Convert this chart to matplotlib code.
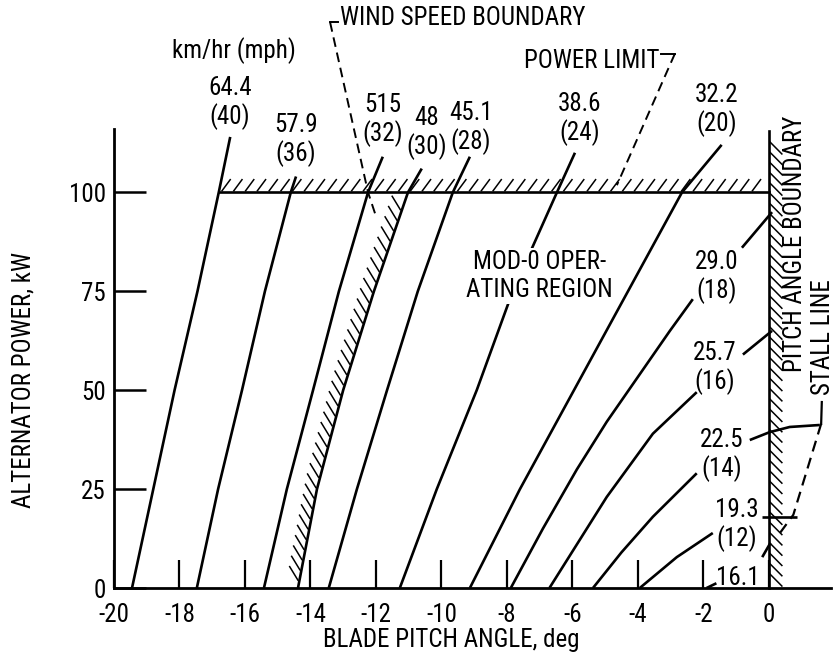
import numpy as np
import matplotlib
matplotlib.use('Agg')
import matplotlib.pyplot as plt
from matplotlib import font_manager as fm

# 좁은 글꼴을 찾아서 사용 (없으면 DejaVu Sans 로 작게)
available = {f.name for f in fm.fontManager.ttflist}
font_choice = None
for cand in ['Liberation Sans Narrow', 'Roboto Condensed', 'Open Sans Condensed', 'PT Sans Narrow',
             'Archivo Narrow', 'Fira Sans Condensed', 'IBM Plex Sans Condensed', 'Encode Sans Condensed',
             'Asap Condensed', 'Sofia Sans Condensed', 'Arimo']:
    if cand in available:
        font_choice = cand
        break
if font_choice and font_choice != 'Arimo':
    plt.rcParams['font.family'] = [font_choice, 'DejaVu Sans']
    FS = 18
else:
    plt.rcParams['font.family'] = ['DejaVu Sans']
    plt.rcParams['font.stretch'] = 'condensed'
    FS = 14
plt.rcParams['axes.unicode_minus'] = False

# --- 데이터 ---
pitch_ticks = [-20, -18, -16, -14, -12, -10, -8, -6, -4, -2, 0]
pitch_tick_labels = ['-20', '-18', '-16', '-14', '-12', '-10', '-8', '-6', '-4', '-2', '0']
power_ticks = [0, 25, 50, 75, 100]

# 풍속 곡선 (pitch deg, power kW)
c40_pitch = [-19.45, -18.8, -18.15, -17.45, -16.8, -16.45]
c40_power = [0, 25, 50, 75, 100, 114]
c36_pitch = [-17.47, -16.82, -16.09, -15.39, -14.6, -14.44]
c36_power = [0, 25, 50, 75, 100, 104]
c32_pitch = [-15.42, -14.72, -13.92, -13.13, -12.24, -11.79]
c32_power = [0, 25, 50, 75, 100, 109]
c30_pitch = [-14.38, -13.8, -13.0, -12.06, -11.02, -10.6]
c30_power = [0, 25, 50, 75, 100, 106]
c28_pitch = [-13.44, -12.58, -11.66, -10.72, -9.65, -9.13]
c28_power = [0, 25, 50, 75, 100, 109]
c24_pitch = [-11.27, -10.14, -8.92, -7.82, -6.47, -5.92]
c24_power = [0, 25, 50, 75, 100, 110]
c20_pitch = [-9.13, -7.6, -5.95, -4.3, -2.65, -1.44]
c20_power = [0, 25, 50, 75, 100, 112]
c18_pitch = [-7.88, -6.9, -5.86, -4.95, -3.02, -2.32]
c18_power = [0, 15, 30, 42, 65, 73]
c16_pitch = [-6.7, -4.95, -3.54, -2.2]
c16_power = [0, 23, 39, 49.5]
c14_pitch = [-5.37, -4.5, -3.54, -2.2]
c14_power = [0, 9, 18, 29]
c12_pitch = [-3.94, -2.81, -1.71]
c12_power = [0, 7.8, 13.9]
c10_pitch = [-1.9, -1.6]
c10_power = [0, 1.2]

# 라벨 뒤에서 경계선까지 이어지는 부분
c18_end_pitch = [-0.82, 0.1]
c18_end_power = [86, 95]
c16_end_pitch = [-0.79, 0.1]
c16_end_power = [59, 65]
c14_end_pitch = [-0.58, 0.03, 0.64, 1.56]
c14_end_power = [37.4, 39.4, 40.7, 41.2]
c12_end_pitch = [-0.2, 0.85]
c12_end_power = [17.9, 17.9]
c10_end_pitch = [-0.2, 0.05]
c10_end_power = [7.8, 11.4]

stall_pitch = [1.6, 0.75, 0.35]
stall_power = [41.5, 18.5, 14]

kmh_labels = ['64.4', '57.9', '515', '48', '45.1', '38.6', '32.2', '29.0', '25.7', '22.5', '19.3', '16.1']
mph_labels = ['(40)', '(36)', '(32)', '(30)', '(28)', '(24)', '(20)', '(18)', '(16)', '(14)', '(12)', '']
label_pitch = [-16.46, -14.44, -11.79, -10.45, -9.1, -5.77, -1.59, -1.59, -1.65, -1.44, -0.98, -0.95]
label_power = [126.3, 116.9, 122.0, 118.7, 120.0, 122.2, 124.5, 82.3, 59.3, 37.4, 19.7, 2.5]

power_limit = 100
power_limit_start = -16.8

# --- 그림 ---
fig = plt.figure(figsize=(8.37, 6.63), dpi=100)
ax = fig.add_axes([0.1362, 0.1131, 0.8566, 0.6923])
ax.set_xlim(-20, 1.9)
ax.set_ylim(0, 116)

for s in ['top', 'right']:
    ax.spines[s].set_visible(False)
for s in ['left', 'bottom']:
    ax.spines[s].set_linewidth(2.0)

ax.set_xticks(pitch_ticks)
ax.set_xticklabels(pitch_tick_labels)
ax.set_yticks(power_ticks)
ax.tick_params(axis='x', direction='in', length=20, width=1.6, pad=11, labelsize=FS)
ax.tick_params(axis='y', direction='in', length=23, width=1.8, pad=6, labelsize=FS)

lw = 1.9
curves = [(c40_pitch, c40_power), (c36_pitch, c36_power), (c32_pitch, c32_power),
          (c30_pitch, c30_power), (c28_pitch, c28_power), (c24_pitch, c24_power),
          (c20_pitch, c20_power), (c18_pitch, c18_power), (c16_pitch, c16_power),
          (c14_pitch, c14_power), (c12_pitch, c12_power), (c10_pitch, c10_power),
          (c18_end_pitch, c18_end_power), (c16_end_pitch, c16_end_power),
          (c14_end_pitch, c14_end_power), (c12_end_pitch, c12_end_power),
          (c10_end_pitch, c10_end_power)]
for px, py in curves:
    ax.plot(px, py, color='black', lw=lw, solid_capstyle='butt', clip_on=False)

# 출력 한계선 + 빗금
ax.plot([power_limit_start, 0], [power_limit, power_limit], color='black', lw=lw)
for x0 in np.arange(power_limit_start + 0.1, -0.2, 0.36):
    ax.plot([x0, x0 + 0.25], [power_limit + 0.4, power_limit + 3.2], color='black', lw=1.1, clip_on=False)

# 피치각 경계선 + 빗금
ax.plot([0, 0], [0, 115.5], color='black', lw=lw, clip_on=False)
for p0 in np.arange(3.5, 115, 2.6):
    ax.plot([0.04, 0.4], [p0, p0 - 3.0], color='black', lw=1.1, clip_on=False)

# 풍속 경계 (30 mph 곡선 왼쪽 빗금)
for p0 in np.arange(2, 97, 2.6):
    xc = np.interp(p0, c30_power, c30_pitch)
    ax.plot([xc - 0.05, xc - 0.3], [p0, p0 + 3.4], color='black', lw=1.1)

# 실속선
ax.plot(stall_pitch, stall_power, color='black', lw=1.6, ls=(0, (5, 3)), clip_on=False)
ax.plot([1.6, 1.62], [41.5, 47], color='black', lw=1.6, clip_on=False)

# 풍속 라벨
for k, m, x, y in zip(kmh_labels, mph_labels, label_pitch, label_power):
    ax.text(x, y, k, ha='center', va='center', fontsize=FS, clip_on=False)
    if m:
        ax.text(x, y - 7.2, m, ha='center', va='center', fontsize=FS, clip_on=False)

ax.text(-16.34, 135.9, 'km/hr (mph)', ha='center', va='center', fontsize=FS, clip_on=False)
box = dict(facecolor='white', edgecolor='none', pad=1.5)
ax.text(-7.0, 82.3, 'MOD-0 OPER-', ha='center', va='center', fontsize=FS, bbox=box, zorder=5)
ax.text(-7.0, 75.3, 'ATING REGION', ha='center', va='center', fontsize=FS, bbox=box, zorder=5)

# 풍속 경계 주석
ax.text(-13.1, 144, 'WIND SPEED BOUNDARY', ha='left', va='center', fontsize=FS, clip_on=False)
ax.plot([-13.4, -13.15], [143, 143], color='black', lw=1.4, clip_on=False)
ax.plot([-13.4, -12.24, -12.0], [143, 100, 94], color='black', lw=1.4, ls=(0, (5, 3)), clip_on=False)

# 출력 한계 주석
ax.text(-3.33, 133.3, 'POWER LIMIT', ha='right', va='center', fontsize=FS, clip_on=False)
ax.plot([-3.3, -2.87], [135, 135], color='black', lw=1.4, clip_on=False)
ax.plot([-2.87, -4.64], [135, 101.8], color='black', lw=1.4, ls=(0, (5, 3)), clip_on=False)

ax.text(0.8, 87, 'PITCH ANGLE BOUNDARY', rotation=90, ha='center', va='center', fontsize=FS, clip_on=False)
ax.text(1.65, 63.5, 'STALL LINE', rotation=90, ha='center', va='center', fontsize=FS, clip_on=False)

ax.text(-9.7, -13.2, 'BLADE PITCH ANGLE, deg', ha='center', va='center', fontsize=FS, clip_on=False)
ax.text(-20 - 91 / 32.74, 52.5, 'ALTERNATOR POWER, kW', rotation=90, ha='center', va='center',
        fontsize=FS, clip_on=False)

plt.savefig('out.png', dpi=100)
